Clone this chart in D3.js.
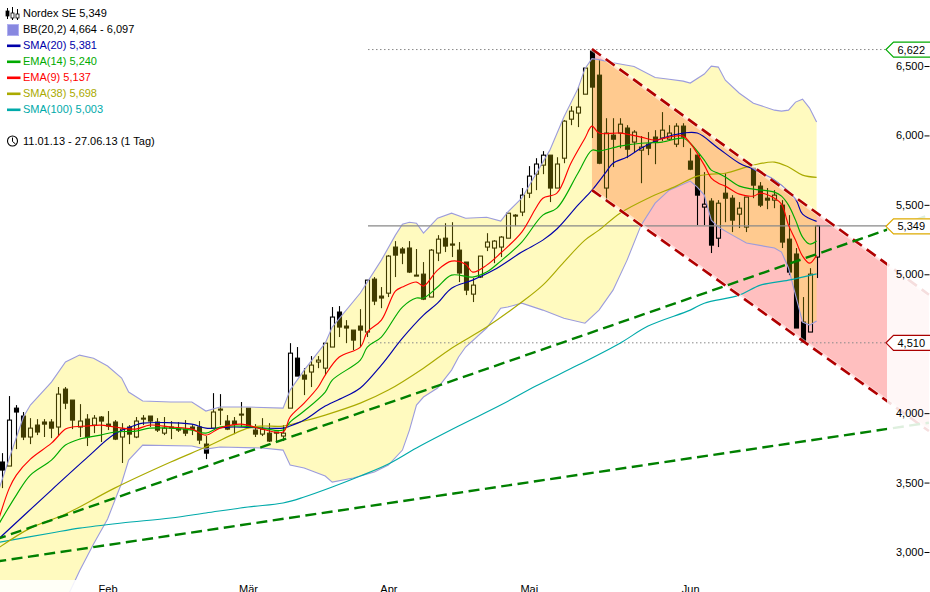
<!DOCTYPE html>
<html><head><meta charset="utf-8">
<script src="https://cdn.jsdelivr.net/npm/d3@7"></script>
<style>
html,body{margin:0;padding:0;background:#fff;overflow:hidden}
svg{display:block}
text{font-family:"Liberation Sans",Arial,sans-serif;font-size:11px}
</style></head><body>
<svg id="c" width="930" height="592"></svg>
<script>
// ---- candles (index = trading day) ----
const open  = [3648,3619,4036,3979,3828,3914,3936,3936,3900,4173,4094,3900,3957,3914,3972,3921,3936,3828,3900,3828,3964,3979,3936,3856,3900,3885,3885,3900,3900,3777,3892,4029,3943,3943,3993,4036,3878,3849,3856,3864,3835,4036,4396,4274,4296,4368,4324,4476,4728,4627,4598,4627,4584,4965,4843,4864,5196,5182,5189,4994,5001,4836,5153,5260,5218,5174,5088,4857,4980,5196,5189,5196,5260,5426,5448,5584,5721,5786,5858,5621,5836,6117,6161,6297,6607,6434,5621,6002,6017,6053,5952,5894,5937,5988,5981,5973,5937,6067,5815,5858,5484,5527,5260,5584,5548,5433,5340,5764,5635,5548,5534,5498,5253,5146,4656,4584,5124];
const high  = [3712,4123,4058,4008,3964,3957,3957,3957,4188,4188,4094,4065,3993,3986,3979,4015,3950,3928,3914,3972,3986,3979,3964,3972,3943,3936,3950,3914,3943,3835,4144,4137,3986,3972,4080,4036,3921,3964,3928,3864,3914,4504,4476,4324,4411,4411,4504,4764,4771,4670,4598,4749,4958,4980,4908,5138,5239,5196,5239,5182,5088,5182,5282,5368,5375,5232,5088,4973,5131,5296,5246,5275,5440,5433,5621,5779,5836,5887,5858,5843,6110,6211,6348,6485,6622,6542,6124,6124,6124,6074,6038,5995,6024,6038,6168,6074,6088,6088,5908,5858,5736,5548,5534,5728,5570,5520,5556,5764,5664,5621,5606,5534,5426,5189,4836,5044,5354];
const low   = [3460,3619,3741,3806,3777,3842,3828,3820,3835,4029,3885,3828,3763,3856,3792,3878,3806,3641,3777,3820,3914,3900,3864,3842,3813,3864,3835,3842,3777,3669,3892,3914,3878,3849,3900,3892,3828,3835,3792,3792,3799,4036,4267,4130,4188,4324,4274,4476,4548,4504,4454,4476,4548,4778,4756,4836,4980,5073,5009,4987,4814,4836,5095,5160,5124,4944,4850,4800,4973,5167,5080,5124,5260,5347,5419,5549,5606,5721,5520,5621,5800,6074,6060,6297,5981,5793,5520,5772,5908,5836,5880,5656,5858,5793,5959,5966,5916,5916,5750,5354,5354,5153,5196,5375,5304,5333,5304,5548,5484,5469,5476,5189,4994,4613,4510,4584,4973];
const close = [3590,3950,4008,3828,3892,3864,3921,3892,4137,4072,3950,3943,3828,3964,3943,3907,3813,3885,3849,3943,3957,3943,3878,3892,3892,3878,3856,3885,3806,3712,4008,4022,3885,3921,3986,3900,3849,3885,3799,3856,3856,4432,4267,4245,4346,4382,4504,4692,4620,4613,4526,4598,4958,4807,4829,5131,5138,5153,5016,4987,4821,5174,5253,5203,5210,5009,4886,4922,5131,5232,5239,5268,5440,5419,5570,5707,5794,5858,5621,5794,6103,6175,6204,6485,6348,5800,6017,5973,6081,5901,6024,5916,5908,5952,6038,6017,6067,5988,5757,5570,5505,5210,5512,5548,5390,5476,5556,5642,5498,5534,5570,5232,5016,4613,4510,5001,5349];

// ---- indicators as [day index, value] readings ----
const bbUpper = [[-1,3374],[1,3676],[3,3972],[4,4058],[7,4224],[9,4368],[11,4418],[13,4396],[15,4339],[17,4253],[18,4152],[20,4087],[24,4080],[27,4080],[29,4015],[31,4044],[35,4044],[40,4036],[41,4166],[43,4310],[46,4504],[47,4620],[51,4865],[54,5102],[56,5282],[57,5361],[58,5375],[59,5368],[60,5296],[62,5404],[64,5440],[66,5404],[69,5411],[71,5383],[72,5448],[74,5548],[78,5894],[80,6132],[82,6337],[83,6481],[84,6553],[85,6546],[87,6524],[90,6496],[93,6417],[95,6405],[97,6391],[98,6377],[100,6442],[101,6499],[102,6492],[103,6398],[105,6304],[107,6232],[110,6182],[111,6175],[112,6182],[113,6240],[114,6261],[115,6197],[116,6097]];
const bbLower = [[-1,1700],[5,2200],[9,2647],[10,2755],[11,2863],[13,3058],[15,3238],[17,3497],[18,3662],[20,3770],[27,3763],[29,3741],[31,3756],[37,3749],[40,3734],[41,3626],[43,3605],[46,3547],[47,3503],[50,3533],[53,3576],[55,3626],[57,3734],[58,3878],[59,4058],[60,4116],[62,4181],[64,4310],[65,4404],[66,4476],[69,4613],[71,4756],[72,4764],[74,4792],[77,4742],[80,4684],[83,4648],[85,4742],[87,4886],[89,5102],[91,5354],[93,5512],[95,5606],[98,5671],[99,5628],[100,5570],[101,5390],[102,5340],[104,5282],[106,5225],[110,5189],[111,5160],[112,5045],[113,4850],[114,4656],[115,4634],[116,4664]];
const sma20 = [[-1,3072],[7,3446],[12,3676],[16,3849],[19,3914],[20,3928],[27,3921],[29,3892],[33,3900],[40,3892],[41,3907],[43,3950],[46,4051],[49,4123],[51,4181],[54,4346],[57,4540],[60,4706],[62,4792],[64,4900],[67,4958],[70,5030],[74,5160],[77,5246],[79,5326],[82,5498],[84,5606],[86,5736],[87,5800],[89,5844],[91,5908],[94,5980],[97,6017],[99,6017],[102,5908],[105,5800],[107,5757],[110,5678],[113,5541],[114,5433],[116,5381]];
const ema14 = [[-1,3158],[2,3410],[4,3554],[7,3662],[9,3770],[11,3813],[14,3842],[16,3864],[19,3871],[21,3892],[24,3892],[27,3878],[29,3856],[31,3900],[34,3907],[37,3892],[40,3878],[41,3936],[43,4015],[46,4152],[47,4238],[51,4382],[52,4476],[54,4548],[57,4764],[59,4829],[60,4829],[62,4908],[64,4994],[67,4980],[69,5016],[71,5095],[74,5232],[77,5426],[79,5476],[82,5728],[84,5894],[85,5887],[88,5923],[91,5944],[94,5952],[97,5980],[98,5944],[100,5822],[101,5750],[102,5728],[103,5700],[105,5635],[107,5613],[110,5592],[111,5563],[112,5498],[113,5390],[114,5268],[115,5218],[116,5240]];
const ema9 = [[-1,3154],[1,3460],[2,3554],[4,3669],[7,3784],[9,3885],[10,3900],[12,3907],[14,3914],[16,3900],[19,3885],[21,3914],[24,3900],[27,3885],[29,3842],[31,3892],[34,3921],[37,3885],[40,3864],[41,3972],[43,4072],[45,4188],[46,4274],[48,4404],[51,4476],[52,4584],[54,4670],[56,4879],[57,4908],[59,4944],[60,4915],[62,5030],[64,5095],[66,5073],[67,5016],[69,5066],[71,5153],[74,5304],[76,5476],[77,5548],[79,5584],[81,5800],[83,5980],[84,6067],[85,6017],[88,6017],[91,5988],[93,5966],[95,5988],[97,5995],[98,5944],[100,5786],[101,5693],[102,5656],[103,5635],[105,5577],[107,5563],[108,5584],[110,5548],[111,5505],[112,5354],[113,5246],[114,5131],[115,5080],[116,5137]];
const sma38 = [[-1,3014],[4,3172],[9,3273],[16,3460],[24,3648],[29,3756],[35,3892],[37,3907],[40,3907],[43,3943],[46,3986],[51,4072],[55,4166],[60,4324],[64,4468],[69,4620],[74,4800],[77,4922],[80,5088],[83,5246],[85,5318],[88,5440],[92,5548],[96,5635],[99,5707],[101,5721],[103,5728],[107,5786],[110,5808],[112,5772],[114,5714],[116,5698]];
const sma100 = [[-1,3065],[7,3137],[11,3172],[17,3209],[24,3245],[29,3281],[35,3324],[40,3353],[43,3396],[47,3468],[51,3547],[55,3634],[59,3749],[65,3907],[71,4058],[76,4195],[82,4346],[88,4504],[92,4627],[98,4742],[100,4792],[105,4850],[108,4922],[112,4958],[116,5003]];

// ---- drawn trend lines ----
const channelUpper = [[84,6622],[132,4853]];
const channelLower = [[84,5606],[132,3871]];
const trendA = [[-1,3089],[132,5426]];
const trendB = [[-1,2930],[132,3931]];

// ---- axes and labels ----
const priceTicks = [3000,3500,4000,5000,5500,6000,6500];
const monthIdx = [15,35,55,75,98];
const monthLabels = ["Feb","Mär","Apr","Mai","Jun"];
const levels = [6622,5349,4510];
const levelColors = ["#00aa00","#ddaa00","#aa0000"];
const legendRows = [
  ["BB(20,2) 4,664 - 6,097","#000",null],
  ["SMA(20) 5,381","#0000aa","#0000aa"],
  ["EMA(14) 5,240","#00aa00","#00aa00"],
  ["EMA(9) 5,137","#ff0000","#ff0000"],
  ["SMA(38) 5,698","#aaaa00","#aaaa00"],
  ["SMA(100) 5,003","#00aaaa","#00aaaa"]
];

const svg = d3.select("#c");
const x = d3.scaleLinear().domain([0,116]).range([2.3,816.6]);
const y = d3.scaleLinear().domain([3000,6500]).range([552,66]);
const ln = d3.line().x(d=>x(d[0])).y(d=>y(d[1]));
const smooth = d3.line().x(d=>x(d[0])).y(d=>y(d[1])).curve(d3.curveCatmullRom.alpha(0.5));

// channel fill (under candles)
svg.append("path").attr("d",ln(channelUpper.concat(channelLower.slice().reverse()))+"Z")
   .attr("fill","rgba(255,0,0,.25)");

// candles: wick above and below the body, so hollow bodies stay empty
const days = d3.range(open.length);
const cx = i=>Math.round(x(i))+.5;
const topV = i=>Math.max(open[i],close[i]);
const botV = i=>Math.min(open[i],close[i]);
const cg = svg.append("g");
cg.selectAll("line.h").data(days).join("line").attr("class","h")
  .attr("x1",cx).attr("x2",cx).attr("y1",i=>y(high[i])).attr("y2",i=>y(topV(i)))
  .attr("stroke","#000").attr("stroke-width",1.1);
cg.selectAll("line.l").data(days).join("line").attr("class","l")
  .attr("x1",cx).attr("x2",cx).attr("y1",i=>y(botV(i))).attr("y2",i=>y(low[i]))
  .attr("stroke","#000").attr("stroke-width",1.1);
cg.selectAll("rect").data(days).join("rect")
  .attr("x",i=>cx(i)-2)
  .attr("width",4)
  .attr("y",i=>y(topV(i)))
  .attr("height",i=>Math.max(.6,y(botV(i))-y(topV(i))))
  .attr("fill",i=>close[i]<open[i]?"#000":"none")
  .attr("stroke","#000").attr("stroke-width",1.1);

// Bollinger band, translucent over the candles
svg.append("path").attr("d",ln(bbUpper.concat(bbLower.slice().reverse()))+"Z").attr("fill","rgba(255,235,0,.25)");
[bbUpper,bbLower].forEach(s=>svg.append("path").attr("d",ln(s)).attr("fill","none")
   .attr("stroke","#9c9cdc").attr("stroke-width",1.1));

// reference levels
svg.append("line").attr("x1",368).attr("x2",930).attr("y1",y(5349)).attr("y2",y(5349))
   .attr("stroke","#888").attr("stroke-width",1.2);
[6622,4510].forEach(v=>svg.append("line").attr("x1",368).attr("x2",888).attr("y1",y(v)+.5).attr("y2",y(v)+.5)
   .attr("stroke","#888").attr("stroke-dasharray","1.5,2.5"));

// indicator lines
[[sma100,"#00aaaa"],[sma38,"#aaaa00"],[sma20,"#0000aa"],[ema14,"#00aa00"],[ema9,"#ff0000"]].forEach(([s,c])=>
  svg.append("path").attr("d",smooth(s)).attr("fill","none").attr("stroke",c)
     .attr("stroke-width",1.15).attr("stroke-linejoin","round"));

// trend lines
[channelUpper,channelLower].forEach(s=>{
  svg.append("path").attr("d",ln(s)).attr("fill","none").attr("stroke","rgba(255,255,255,.55)").attr("stroke-width",4);
  svg.append("path").attr("d",ln(s)).attr("fill","none").attr("stroke","#b00000")
     .attr("stroke-width",2.6).attr("stroke-dasharray","11,6");
});
[trendA,trendB].forEach(s=>svg.append("path").attr("d",ln(s)).attr("fill","none")
   .attr("stroke","#008000").attr("stroke-width",2.4).attr("stroke-dasharray","11,5.5"));

// pale strips outside the plot
svg.append("rect").attr("x",887).attr("y",0).attr("width",43).attr("height",592).attr("fill","rgba(255,255,255,.87)");
svg.append("rect").attr("x",0).attr("y",580).attr("width",887).attr("height",12).attr("fill","rgba(255,255,255,.87)");

// price axis
const ya = svg.append("g").attr("transform","translate(929.5,0)")
  .call(d3.axisLeft(y).tickValues(priceTicks).tickFormat(d3.format(",")).tickSize(5).tickPadding(1));
ya.select(".domain").remove();
ya.selectAll("text").attr("fill","#000").style("font-size","11px");
ya.selectAll("line").attr("stroke","#000");

// time axis
const monthScale = d3.scaleOrdinal().domain(monthIdx).range(monthLabels);
const xa = svg.append("g").attr("transform","translate(0,583)")
  .call(d3.axisBottom(x).tickValues(monthIdx).tickFormat(d=>monthScale(d)).tickSize(0).tickPadding(0));
xa.select(".domain").remove();
xa.selectAll("text").attr("fill","#000").attr("dy",0).attr("y",10).style("font-size","11px");

// level tags
levels.forEach((v,k)=>{
  const c=y(v)+.5;
  svg.append("path").attr("d",`M930.5,${c-7.5}H893.5L886,${c}L893.5,${c+7.5}H930.5`)
     .attr("fill","#fff").attr("stroke",levelColors[k]).attr("stroke-width",1.2);
  svg.append("text").attr("x",925).attr("y",c+4).attr("text-anchor","end").text(d3.format(",")(v));
});

// legend
const lg = svg.append("g");
const candleIcon = [[7,8,19,11,16],[12,7,20,13,18],[17,9,20,14,18]];
candleIcon.forEach(d=>{
  lg.append("line").attr("x1",d[0]+.5).attr("x2",d[0]+.5).attr("y1",d[1]).attr("y2",d[2]).attr("stroke","#000");
  lg.append("rect").attr("x",d[0]-1).attr("y",d[3]).attr("width",3).attr("height",d[4]-d[3])
    .attr("fill",d[0]===7?"#000":"#fff").attr("stroke","#000").attr("stroke-width",.8);
});
lg.append("text").attr("x",23).attr("y",17).text("Nordex SE 5,349");
lg.append("rect").attr("x",7.5).attr("y",24.5).attr("width",11).attr("height",11).attr("fill","#8888e0").attr("stroke","#b0b0f0");
legendRows.forEach((r,k)=>{
  const by=33+k*16;
  lg.append("text").attr("x",23).attr("y",by).attr("fill",r[1]).text(r[0]);
  if(r[2]) lg.append("rect").attr("x",7).attr("y",by-4.5).attr("width",13.5).attr("height",2.6).attr("fill",r[2]);
});
lg.append("circle").attr("cx",12.5).attr("cy",141).attr("r",5).attr("fill","none").attr("stroke","#000").attr("stroke-width",1.1);
lg.append("path").attr("d","M12.5,137.5V141.5L15.5,144").attr("fill","none").attr("stroke","#000");
lg.append("text").attr("x",23).attr("y",145).text("11.01.13 - 27.06.13 (1 Tag)");
</script>
</body></html>
